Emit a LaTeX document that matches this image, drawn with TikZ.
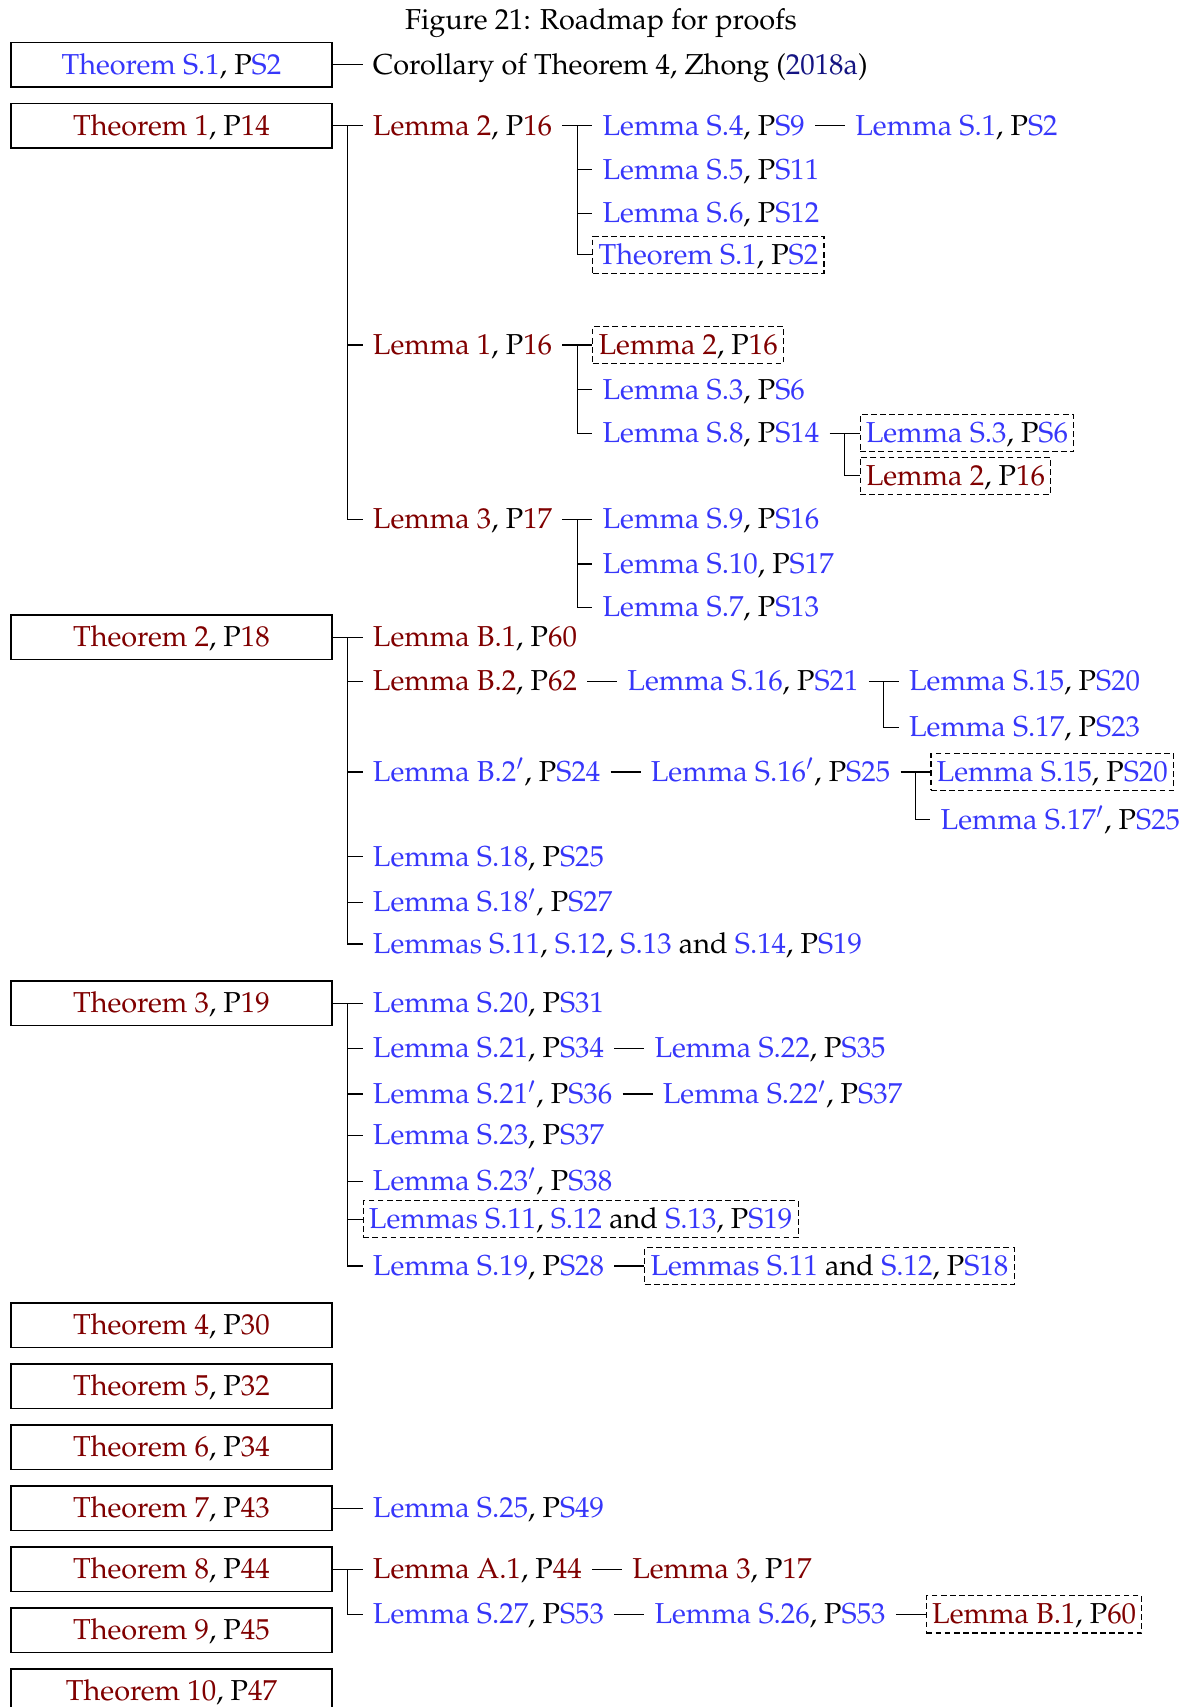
\documentclass[tikz,border=0pt]{standalone}
\usepackage[T1]{fontenc}
\usepackage{mathpazo}
\usetikzlibrary{calc}
\definecolor{lb}{RGB}{55,55,250}
\definecolor{dr}{RGB}{128,0,0}
\definecolor{nv}{RGB}{20,20,130}
\newcommand\lnkb[1]{\textcolor{lb}{#1}}
\newcommand\lnkr[1]{\textcolor{dr}{#1}}
\newcommand\kidnode[5][txt]{\path (#2.east) ++(27.5,0) coordinate (tmpk); \node[#1] (#3) at (tmpk |- 0,#4) {#5};}
\newcommand\forkedge[3]{\draw[edge] (#1.east) -- (#2.west); \coordinate (ff) at ($(#1.east)!0.5!(#2.west)$); \foreach \cc in {#3}{\draw[edge] (ff) |- (\cc.west);}}
\begin{document}
\begin{tikzpicture}[x=0.3811pt, y=-0.3811pt,
  font=\fontsize{10.1}{12.1}\selectfont,
  txt/.style={anchor=west, inner xsep=3.4pt, inner ysep=1pt, text height=8.2pt, text depth=1.6pt},
  dbox/.style={txt, draw, dash pattern=on 2pt off 1.2pt, inner xsep=2pt, inner ysep=1.6pt, line width=0.4pt},
  thm/.style={draw, line width=0.5pt, minimum width=112.4pt, minimum height=15.6pt, inner sep=0pt, text height=8.2pt, text depth=1.6pt},
  edge/.style={line width=0.45pt}]
\useasboundingbox (0,0) rectangle (1090,1568);
\node[text height=8.2pt, text depth=1.6pt] (title) at (552,18) {Figure 21: Roadmap for proofs};

% Theorem S.1
\node[thm] (t0) at (157.5,59.5) {\lnkb{Theorem S.1}, P\lnkb{S2}};
\kidnode{t0}{cor}{59.5}{Corollary of Theorem 4, Zhong (\textcolor{nv}{2018a})}
\draw[edge] (t0.east) -- (cor.west);

% Theorem 1
\node[thm] (t1) at (157.5,115.5) {\lnkr{Theorem 1}, P\lnkr{14}};
\kidnode{t1}{l2}{115.5}{\lnkr{Lemma 2}, P\lnkr{16}}
\kidnode{t1}{l1}{317}{\lnkr{Lemma 1}, P\lnkr{16}}
\kidnode{t1}{l3}{477}{\lnkr{Lemma 3}, P\lnkr{17}}
\forkedge{t1}{l2}{l1,l3}

\kidnode{l2}{s4}{115.5}{\lnkb{Lemma S.4}, P\lnkb{S9}}
\kidnode{s4}{s1}{115.5}{\lnkb{Lemma S.1}, P\lnkb{S2}}
\draw[edge] (s4.east) -- (s1.west);
\kidnode{l2}{s5}{156}{\lnkb{Lemma S.5}, P\lnkb{S11}}
\kidnode{l2}{s6}{196}{\lnkb{Lemma S.6}, P\lnkb{S12}}
\kidnode[dbox]{l2}{ts1}{234}{\lnkb{Theorem S.1}, P\lnkb{S2}}
\forkedge{l2}{s4}{s5,s6,ts1}

\kidnode[dbox]{l1}{l2b}{317}{\lnkr{Lemma 2}, P\lnkr{16}}
\kidnode{l1}{s3}{358}{\lnkb{Lemma S.3}, P\lnkb{S6}}
\kidnode{l1}{s8}{398}{\lnkb{Lemma S.8}, P\lnkb{S14}}
\forkedge{l1}{l2b}{s3,s8}
\kidnode[dbox]{s8}{s3b}{398}{\lnkb{Lemma S.3}, P\lnkb{S6}}
\kidnode[dbox]{s8}{l2c}{437}{\lnkr{Lemma 2}, P\lnkr{16}}
\forkedge{s8}{s3b}{l2c}

\kidnode{l3}{s9}{477}{\lnkb{Lemma S.9}, P\lnkb{S16}}
\kidnode{l3}{s10}{518}{\lnkb{Lemma S.10}, P\lnkb{S17}}
\kidnode{l3}{s7}{558}{\lnkb{Lemma S.7}, P\lnkb{S13}}
\forkedge{l3}{s9}{s10,s7}

% Theorem 2
\node[thm] (t2) at (157.5,585.5) {\lnkr{Theorem 2}, P\lnkr{18}};
\kidnode{t2}{b1}{585.5}{\lnkr{Lemma B.1}, P\lnkr{60}}
\kidnode{t2}{b2}{626}{\lnkr{Lemma B.2}, P\lnkr{62}}
\kidnode{t2}{b2p}{709}{\lnkb{Lemma B.2$'$}, P\lnkb{S24}}
\kidnode{t2}{s18}{787}{\lnkb{Lemma S.18}, P\lnkb{S25}}
\kidnode{t2}{s18p}{829}{\lnkb{Lemma S.18$'$}, P\lnkb{S27}}
\kidnode{t2}{lms}{867}{\lnkb{Lemmas S.11}, \lnkb{S.12}, \lnkb{S.13} and \lnkb{S.14}, P\lnkb{S19}}
\forkedge{t2}{b1}{b2,b2p,s18,s18p,lms}

\kidnode{b2}{s16}{626}{\lnkb{Lemma S.16}, P\lnkb{S21}}
\draw[edge] (b2.east) -- (s16.west);
\kidnode{s16}{s15}{626}{\lnkb{Lemma S.15}, P\lnkb{S20}}
\kidnode{s16}{s17}{668}{\lnkb{Lemma S.17}, P\lnkb{S23}}
\forkedge{s16}{s15}{s17}

\kidnode{b2p}{s16p}{709}{\lnkb{Lemma S.16$'$}, P\lnkb{S25}}
\draw[edge] (b2p.east) -- (s16p.west);
\kidnode[dbox]{s16p}{s15b}{709}{\lnkb{Lemma S.15}, P\lnkb{S20}}
\kidnode{s16p}{s17p}{753}{\lnkb{Lemma S.17$'$}, P\lnkb{S25}}
\forkedge{s16p}{s15b}{s17p}

% Theorem 3
\node[thm] (t3) at (157.5,921.5) {\lnkr{Theorem 3}, P\lnkr{19}};
\kidnode{t3}{s20}{921.5}{\lnkb{Lemma S.20}, P\lnkb{S31}}
\kidnode{t3}{s21}{963}{\lnkb{Lemma S.21}, P\lnkb{S34}}
\kidnode{t3}{s21p}{1005}{\lnkb{Lemma S.21$'$}, P\lnkb{S36}}
\kidnode{t3}{s23}{1043}{\lnkb{Lemma S.23}, P\lnkb{S37}}
\kidnode{t3}{s23p}{1085}{\lnkb{Lemma S.23$'$}, P\lnkb{S38}}
\kidnode[dbox]{t3}{lmsb}{1120}{\lnkb{Lemmas S.11}, \lnkb{S.12} and \lnkb{S.13}, P\lnkb{S19}}
\kidnode{t3}{s19}{1163}{\lnkb{Lemma S.19}, P\lnkb{S28}}
\forkedge{t3}{s20}{s21,s21p,s23,s23p,lmsb,s19}

\kidnode{s21}{s22}{963}{\lnkb{Lemma S.22}, P\lnkb{S35}}
\draw[edge] (s21.east) -- (s22.west);
\kidnode{s21p}{s22p}{1005}{\lnkb{Lemma S.22$'$}, P\lnkb{S37}}
\draw[edge] (s21p.east) -- (s22p.west);
\kidnode[dbox]{s19}{lmsc}{1163}{\lnkb{Lemmas S.11} and \lnkb{S.12}, P\lnkb{S18}}
\draw[edge] (s19.east) -- (lmsc.west);

% Theorems 4--10
\node[thm] (t4) at (157.5,1217.5) {\lnkr{Theorem 4}, P\lnkr{30}};
\node[thm] (t5) at (157.5,1273.5) {\lnkr{Theorem 5}, P\lnkr{32}};
\node[thm] (t6) at (157.5,1329.5) {\lnkr{Theorem 6}, P\lnkr{34}};
\node[thm] (t7) at (157.5,1385.5) {\lnkr{Theorem 7}, P\lnkr{43}};
\node[thm] (t8) at (157.5,1441.5) {\lnkr{Theorem 8}, P\lnkr{44}};
\node[thm] (t9) at (157.5,1497.5) {\lnkr{Theorem 9}, P\lnkr{45}};
\node[thm] (t10) at (157.5,1553.5) {\lnkr{Theorem 10}, P\lnkr{47}};

\kidnode{t7}{s25}{1385.5}{\lnkb{Lemma S.25}, P\lnkb{S49}}
\draw[edge] (t7.east) -- (s25.west);

\kidnode{t8}{a1}{1441.5}{\lnkr{Lemma A.1}, P\lnkr{44}}
\kidnode{t8}{s27}{1483}{\lnkb{Lemma S.27}, P\lnkb{S53}}
\forkedge{t8}{a1}{s27}
\kidnode{a1}{l3b}{1441.5}{\lnkr{Lemma 3}, P\lnkr{17}}
\draw[edge] (a1.east) -- (l3b.west);
\kidnode{s27}{s26}{1483}{\lnkb{Lemma S.26}, P\lnkb{S53}}
\draw[edge] (s27.east) -- (s26.west);
\kidnode[dbox]{s26}{b1b}{1483}{\lnkr{Lemma B.1}, P\lnkr{60}}
\draw[edge] (s26.east) -- (b1b.west);
\end{tikzpicture}
\end{document}
